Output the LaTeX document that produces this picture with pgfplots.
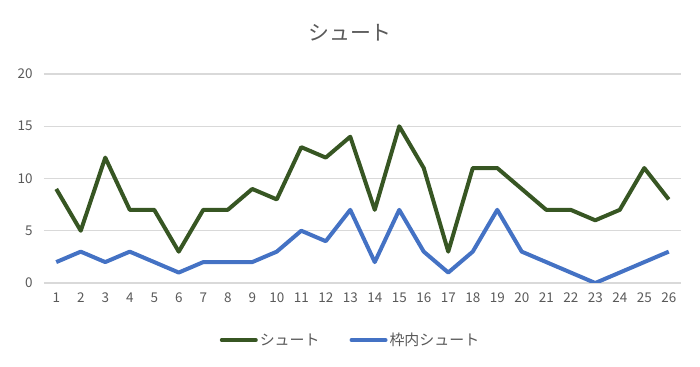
\documentclass[border=0pt]{standalone}
\usepackage{fontspec}
\setmainfont{Noto Sans CJK JP}
\usepackage{pgfplots}
\pgfplotsset{compat=1.18}
\definecolor{gshot}{HTML}{375623}
\definecolor{bshot}{HTML}{4472C4}
\definecolor{gridc}{HTML}{D9D9D9}
\definecolor{txt}{HTML}{595959}
\begin{document}
\begin{tikzpicture}
\path[use as bounding box] (0,0) rectangle (700bp,367bp);
\node[font=\fontsize{21}{25}\selectfont, text=txt] at (350bp,334bp) {シュート};
\begin{axis}[
  at={(44bp,84bp)}, anchor=south west,
  scale only axis, width=637bp, height=209bp,
  xmin=0.5, xmax=26.5, ymin=0, ymax=20,
  xtick={1,...,26}, ytick={0,5,10,15,20},
  axis line style={draw=none},
  major tick length=0pt,
  ymajorgrids, grid style={gridc, line width=1.3bp},
  tick label style={font=\fontsize{13.5}{16}\selectfont, text=txt},
  /pgf/number format/assume math mode=true,
  xticklabel style={yshift=-6bp},
  yticklabel style={xshift=-8bp},
  legend style={at={(0.5,-0.273)}, anchor=center, xshift=-12bp, draw=none, legend columns=2,
    font=\fontsize{15}{17}\selectfont, text=txt,
    /tikz/every even column/.append style={column sep=28bp}},
  legend image code/.code={\draw[#1, line cap=round] (0bp,0bp) -- (34bp,0bp);},
  every axis plot/.append style={line width=4bp, line join=round, no markers},
]
\addplot[gshot] coordinates {(1,9)(2,5)(3,12)(4,7)(5,7)(6,3)(7,7)(8,7)(9,9)(10,8)(11,13)(12,12)(13,14)(14,7)(15,15)(16,11)(17,3)(18,11)(19,11)(20,9)(21,7)(22,7)(23,6)(24,7)(25,11)(26,8)};
\addlegendentry{シュート}
\addplot[bshot] coordinates {(1,2)(2,3)(3,2)(4,3)(5,2)(6,1)(7,2)(8,2)(9,2)(10,3)(11,5)(12,4)(13,7)(14,2)(15,7)(16,3)(17,1)(18,3)(19,7)(20,3)(21,2)(22,1)(23,0)(24,1)(25,2)(26,3)};
\addlegendentry{枠内シュート}
\end{axis}
\end{tikzpicture}
\end{document}
